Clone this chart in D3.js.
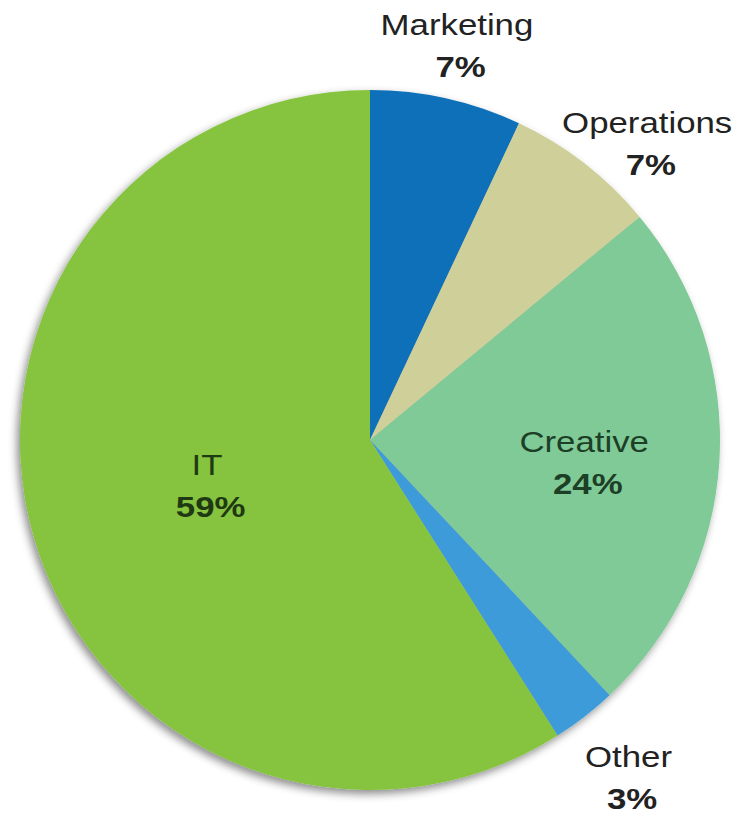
<!DOCTYPE html>
<html><head><meta charset="utf-8">
<script src="https://cdn.jsdelivr.net/npm/d3@7"></script>
<style>body{margin:0;background:#fff}svg{display:block}</style>
</head><body>
<svg id="chart" width="738" height="817"></svg>
<script>
const categories = ["Marketing","Operations","Creative","Other","IT"];
const values = [7,7,24,3,59];
const colors = ["#1170b8","#cfcf9a","#80ca98","#3d9bd9","#86c441"];
const labelText = ["#222","#222","#1c3f26","#222","#1f3a12"];

const svg = d3.select("#chart");
const cx = 370, cy = 440, R = 350;
const defs = svg.append("defs");
const f = defs.append("filter").attr("id","sh").attr("x","-10%").attr("y","-10%").attr("width","120%").attr("height","120%");
f.append("feDropShadow").attr("dx",-3).attr("dy",4).attr("stdDeviation",4).attr("flood-color","#000").attr("flood-opacity",0.45);

const pie = d3.pie().sort(null).value(d=>d)(values);
const arc = d3.arc().innerRadius(0).outerRadius(R);
const g = svg.append("g").attr("transform",`translate(${cx},${cy})`);
const slices = g.append("g").attr("filter","url(#sh)");
slices.selectAll("path").data(pie).join("path")
  .attr("d",arc).attr("fill",(d,i)=>colors[i]);

// label placement: radius factor and angle offset (degrees) from slice mid-angle
const labelR = [1.166,1.17,0.614,1.205,0.48];
const labelDA = [-0.3,4.8,1.2,0,2.1];
const font = "Liberation Sans, Arial, Helvetica, sans-serif";
pie.forEach((d,i)=>{
  const a = (d.startAngle+d.endAngle)/2 + labelDA[i]*Math.PI/180;
  const r = R*labelR[i];
  const x = cx + r*Math.sin(a), y = cy - r*Math.cos(a);
  const t = svg.append("g").attr("transform",`translate(${x},${y}) scale(1.2,1)`);
  t.append("text").attr("text-anchor","middle").attr("y",-6)
    .attr("font-family",font).attr("font-size",29).attr("fill",labelText[i])
    .text(categories[i]);
  t.append("text").attr("text-anchor","middle").attr("x",3).attr("y",36)
    .attr("font-family",font).attr("font-size",29).attr("font-weight","bold").attr("fill",labelText[i])
    .text(values[i]+"%");
});
</script>
</body></html>
